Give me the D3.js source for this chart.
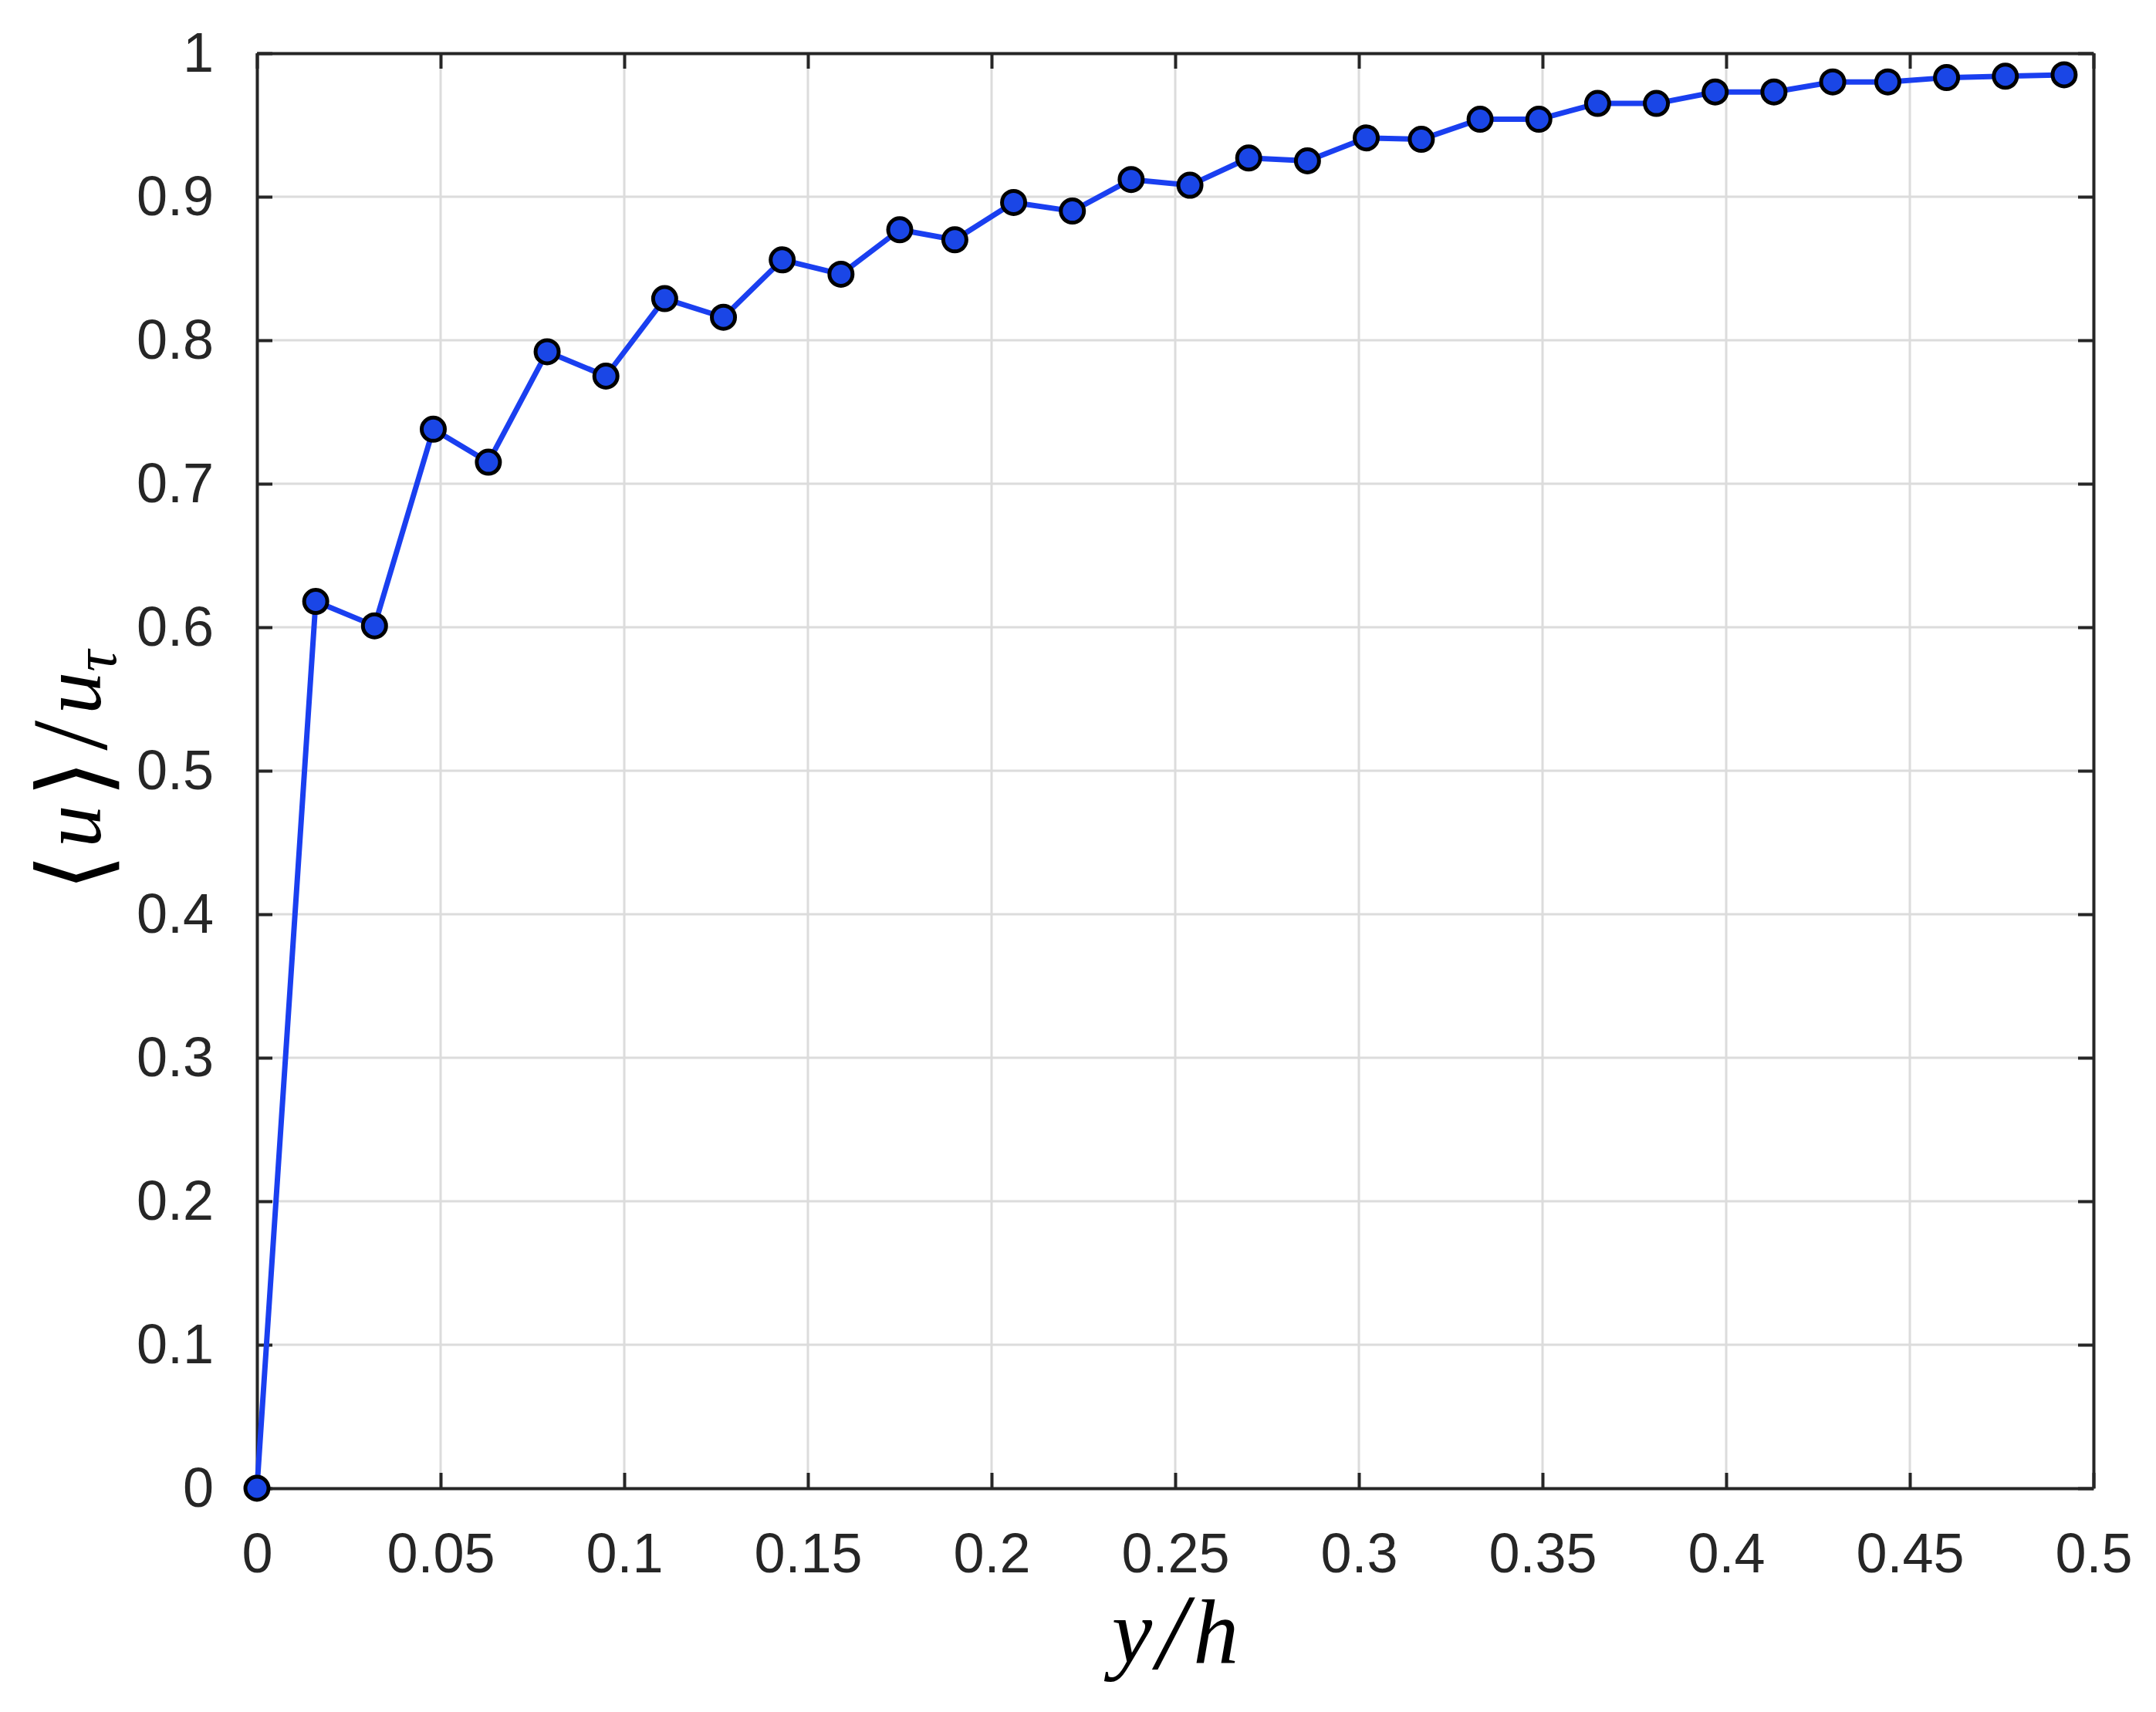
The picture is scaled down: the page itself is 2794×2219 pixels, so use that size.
<!DOCTYPE html>
<html>
<head>
<meta charset="utf-8">
<script src="https://cdn.jsdelivr.net/npm/d3@7"></script>
<style>
    body { margin: 0; background: #ffffff; }
    .tick text { font-family: "Liberation Sans", Arial, sans-serif; fill: #262626; }
</style>
</head>
<body>
<div id="chart"></div>
<script>
// values
var yOverH = [0, 0.016, 0.032, 0.048, 0.063, 0.079, 0.095, 0.111, 0.127, 0.143,
    0.159, 0.175, 0.190, 0.206, 0.222, 0.238, 0.254, 0.270, 0.286, 0.302,
    0.317, 0.333, 0.349, 0.365, 0.381, 0.397, 0.413, 0.429, 0.444, 0.460,
    0.476, 0.492];
var meanU = [0, 0.618, 0.601, 0.738, 0.715, 0.792, 0.775, 0.829, 0.816, 0.856,
    0.846, 0.877, 0.870, 0.896, 0.890, 0.912, 0.908, 0.927, 0.925, 0.941,
    0.940, 0.954, 0.954, 0.965, 0.965, 0.973, 0.973, 0.980, 0.980, 0.983,
    0.984, 0.985];
var xTicks = [0, 0.05, 0.1, 0.15, 0.2, 0.25, 0.3, 0.35, 0.4, 0.45, 0.5];
var yTicks = [0, 0.1, 0.2, 0.3, 0.4, 0.5, 0.6, 0.7, 0.8, 0.9, 1];

var svgWidth = 2794;
var svgHeight = 2219;

var margin = {
    top: 69,
    right: 81,
    bottom: 290,
    left: 333
};

var width = svgWidth - margin.left - margin.right;
var height = svgHeight - margin.top - margin.bottom;

var svg = d3.select("#chart")
    .append("svg")
    .attr("width", svgWidth)
    .attr("height", svgHeight);

var chartGroup = svg.append("g")
    .attr("transform", `translate(${margin.left}, ${margin.top})`);

var xScale = d3.scaleLinear().domain([0, 0.5]).range([0, width]);
var yScale = d3.scaleLinear().domain([0, 1]).range([height, 0]);

var axisColor = "#262626";

// grid lines
chartGroup.append("g")
    .selectAll("line.vgrid")
    .data(xTicks)
    .enter()
    .append("line")
    .attr("x1", d => xScale(d))
    .attr("x2", d => xScale(d))
    .attr("y1", 0)
    .attr("y2", height)
    .attr("stroke", "#dcdcdc")
    .attr("stroke-width", 3);

chartGroup.append("g")
    .selectAll("line.hgrid")
    .data(yTicks)
    .enter()
    .append("line")
    .attr("x1", 0)
    .attr("x2", width)
    .attr("y1", d => yScale(d))
    .attr("y2", d => yScale(d))
    .attr("stroke", "#dcdcdc")
    .attr("stroke-width", 3);

// axes with inward ticks on all four sides
var bottomAxis = d3.axisBottom(xScale).tickValues(xTicks).tickFormat(d3.format("")).tickSizeInner(-20).tickSizeOuter(0).tickPadding(58);
var leftAxis = d3.axisLeft(yScale).tickValues(yTicks).tickFormat(d3.format("")).tickSizeInner(-20).tickSizeOuter(0).tickPadding(56);
var topAxis = d3.axisTop(xScale).tickValues(xTicks).tickFormat("").tickSizeInner(-20).tickSizeOuter(0);
var rightAxis = d3.axisRight(yScale).tickValues(yTicks).tickFormat("").tickSizeInner(-20).tickSizeOuter(0);

var xAxis = chartGroup.append("g")
    .attr("transform", `translate(0, ${height})`)
    .call(bottomAxis);
var yAxis = chartGroup.append("g")
    .call(leftAxis);
chartGroup.append("g").call(topAxis);
chartGroup.append("g").attr("transform", `translate(${width}, 0)`).call(rightAxis);

chartGroup.selectAll(".domain")
    .attr("stroke", axisColor)
    .attr("stroke-width", 4);
chartGroup.selectAll(".tick line")
    .attr("stroke", axisColor)
    .attr("stroke-width", 4);
chartGroup.selectAll(".tick text")
    .attr("font-size", 72)
    .attr("fill", axisColor);

// data line and markers
var line = d3.line()
    .x((d, i) => xScale(yOverH[i]))
    .y(d => yScale(d));

chartGroup.append("path")
    .datum(meanU)
    .attr("d", line)
    .attr("fill", "none")
    .attr("stroke", "#1a3ff0")
    .attr("stroke-width", 7)
    .attr("stroke-linejoin", "round");

chartGroup.selectAll("circle")
    .data(meanU)
    .enter()
    .append("circle")
    .attr("cx", (d, i) => xScale(yOverH[i]))
    .attr("cy", d => yScale(d))
    .attr("r", 15)
    .attr("fill", "#1a46e6")
    .attr("stroke", "#000000")
    .attr("stroke-width", 5);

// axis labels (LaTeX style)
var xLabel = svg.append("text")
    .attr("x", margin.left + width / 2)
    .attr("y", 2155)
    .attr("text-anchor", "middle")
    .attr("font-family", "'Liberation Serif', 'DejaVu Serif', serif")
    .attr("font-style", "italic")
    .attr("font-size", 118)
    .attr("fill", "#000000");
xLabel.append("tspan").text("y");
xLabel.append("tspan").attr("dx", 6).attr("font-size", 140).attr("dy", 8).text("/");
xLabel.append("tspan").attr("dx", 8).attr("dy", -8).text("h");

var yLabel = svg.append("text")
    .attr("transform", `translate(130, ${margin.top + height / 2}) rotate(-90)`)
    .attr("text-anchor", "middle")
    .attr("font-family", "'Liberation Serif', 'DejaVu Serif', serif")
    .attr("font-size", 110)
    .attr("fill", "#000000");
yLabel.append("tspan").attr("font-family", "'DejaVu Serif', serif").attr("font-size", 125).attr("dy", 8).text("\u27E8");
yLabel.append("tspan").attr("font-style", "italic").attr("dx", 8).attr("dy", -8).text("u");
yLabel.append("tspan").attr("font-family", "'DejaVu Serif', serif").attr("font-size", 125).attr("dx", 10).attr("dy", 8).text("\u27E9");
yLabel.append("tspan").attr("font-size", 140).attr("dx", 12).text("/");
yLabel.append("tspan").attr("font-style", "italic").attr("dx", 8).attr("dy", -8).text("u");
yLabel.append("tspan").attr("font-style", "italic").attr("font-size", 78).attr("dy", 20).text("\u03C4");
</script>
</body>
</html>
